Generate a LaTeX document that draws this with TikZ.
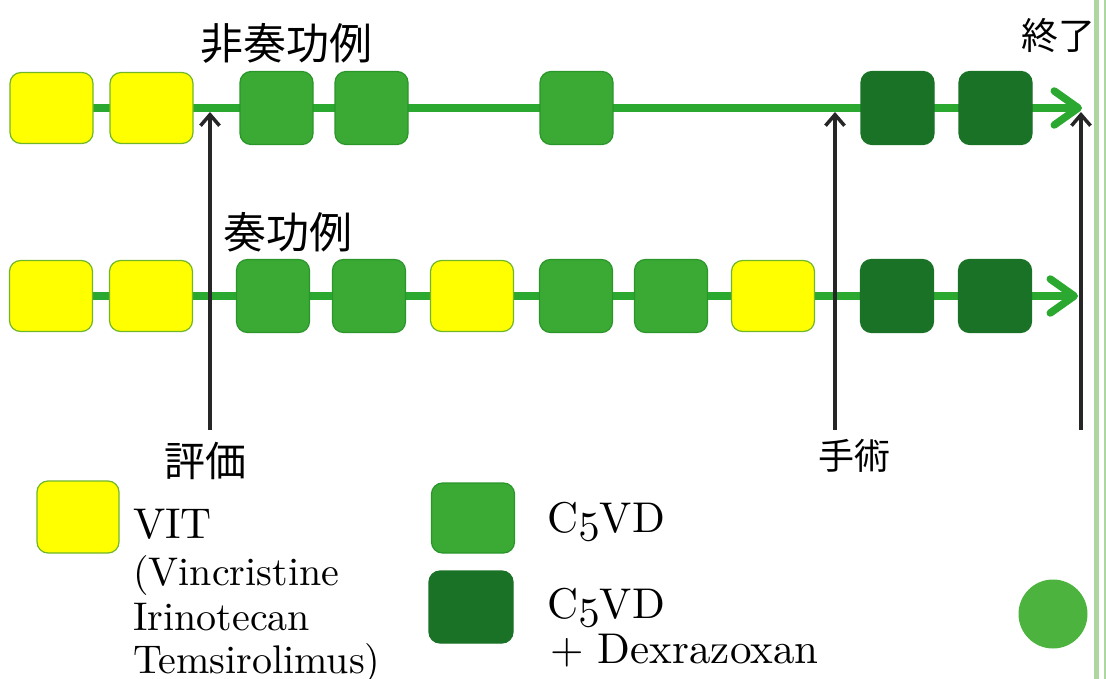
\documentclass[tikz,border=0pt]{standalone}
\usepackage{fontspec}
\setmainfont{lmroman10-regular.otf}
\newfontfamily\jpfont{Noto Sans CJK JP}
\usepackage{xcolor}
\usepackage{tikz}
\usetikzlibrary{arrows.meta, positioning, backgrounds}

% scalable old-style figures
\DeclareFontFamily{OML}{cmm}{\skewchar\font'177}
\DeclareFontShape{OML}{cmm}{m}{it}{<->cmmi10}{}
\newcommand{\onum}[1]{{\usefont{OML}{cmm}{m}{it}#1}}

\definecolor{vitYellow}{RGB}{255,255,0}
\definecolor{vitEdge}{RGB}{112,182,40}
\definecolor{cvdGreen}{RGB}{58,170,52}
\definecolor{cvdEdge}{RGB}{42,150,42}
\definecolor{dexGreen}{RGB}{26,114,38}
\definecolor{trackGreen}{RGB}{42,168,48}
\definecolor{rimGreen}{RGB}{172,216,160}
\definecolor{dotGreen}{RGB}{76,180,62}

\tikzstyle{vit} = [rectangle, rounded corners=11pt, minimum width=83pt, minimum height=71pt, outer sep=0pt, draw=vitEdge, line width=1.2pt, fill=vitYellow]
\tikzstyle{cvd} = [rectangle, rounded corners=11pt, minimum width=73pt, minimum height=73pt, outer sep=0pt, draw=cvdEdge, line width=1.2pt, fill=cvdGreen]
\tikzstyle{dex} = [cvd, draw=dexGreen, fill=dexGreen]
\tikzstyle{track} = [line width=7.5pt, draw=trackGreen, -{Straight Barb[length=24pt,width=34pt,round]}]
\tikzstyle{marker} = [line width=3.5pt, draw=black!85, -{Straight Barb[length=11pt,width=19pt]}]
\tikzstyle{jlabel} = [inner sep=0pt, font=\jpfont\fontsize{43}{48}\selectfont]
\tikzstyle{legtext} = [inner sep=0pt, anchor=base west, font=\fontsize{40}{46}\selectfont]
\tikzstyle{legbig} = [legtext, font=\fontsize{43}{48}\selectfont]

\begin{document}
\begin{tikzpicture}[x=1pt, y=-1pt]
    \useasboundingbox (0,0) rectangle (1106,679);

    % Non-responder course
    \node[vit] (r1a) at (51.5,108) {};
    \node[vit, right=17pt of r1a] (r1b) {};
    \node[cvd, right=47pt of r1b] (r1c) {};
    \node[cvd, right=22pt of r1c] (r1d) {};
    \node[cvd, right=132pt of r1d] (r1e) {};
    \node[dex, right=248pt of r1e] (r1f) {};
    \node[dex, right=25pt of r1f] (r1g) {};
    \coordinate (end1) at (1082,108);
    \node[jlabel] (nonresp) at (286,43) {非奏功例};

    % Responder course
    \node[vit] (r2a) at (51,296) {};
    \node[vit, right=17pt of r2a] (r2b) {};
    \node[cvd, right=44pt of r2b] (r2c) {};
    \node[cvd, right=23pt of r2c] (r2d) {};
    \node[vit, right=25pt of r2d] (r2e) {};
    \node[cvd, right=26pt of r2e] (r2f) {};
    \node[cvd, right=22pt of r2f] (r2g) {};
    \node[vit, right=24pt of r2g] (r2h) {};
    \node[dex, right=46pt of r2h] (r2i) {};
    \node[dex, right=25pt of r2i] (r2j) {};
    \coordinate (end2) at (1078,296);
    \node[jlabel] (resp) at (288,232) {奏功例};

    % Tracks behind the boxes
    \begin{scope}[on background layer]
        \draw[track] (r1a.center) -- (end1);
        \draw[track] (r2a.center) -- (end2);
    \end{scope}

    % Time points
    \node[jlabel, font=\jpfont\fontsize{41}{46}\selectfont] (eval) at (205,461) {評価};
    \node[jlabel, font=\jpfont\fontsize{36}{40}\selectfont] (surg) at (854,456) {手術};
    \node[jlabel, font=\jpfont\fontsize{37}{42}\selectfont] (stop) at (1058,36) {終了};
    \coordinate (evalfoot) at (210,430);
    \coordinate (evaltip) at (210,112);
    \coordinate (surgfoot) at (835,430);
    \coordinate (surgtip) at (835,112);
    \coordinate (stopfoot) at (1081,430);
    \coordinate (stoptip) at (1081,112);
    \draw[marker] (evalfoot) -- (evaltip);
    \draw[marker] (surgfoot) -- (surgtip);
    \draw[marker] (stopfoot) -- (stoptip);

    % Legend
    \node[vit, minimum width=82pt, minimum height=72pt] (keyvit) at (78,517) {};
    \node[legbig] (vit) at (133,538) {VIT};
    \node[legtext] (vin) at (133,585) {(Vincristine};
    \node[legtext] (iri) at (133,630) {Irinotecan};
    \node[legtext] (tem) at (133,673) {Temsirolimus)};

    \node[cvd, minimum width=83pt, minimum height=70pt] (keycvd) at (473,518) {};
    \node[legbig] (cvdtxt) at (547,532) {C\onum{5}VD};

    \node[dex, minimum width=84pt, minimum height=72pt] (keydex) at (471,607) {};
    \node[legbig] (dextxt) at (547,618) {C\onum{5}VD};
    \node[legbig] (dexplus) at (550,663) {+ Dexrazoxan};

    % Page edge
    \node[circle, fill=dotGreen, minimum size=69pt, inner sep=0pt] (dot) at (1053,614) {};
    \draw[rimGreen, line width=5pt] (1096,0) -- (1096,679);
    \draw[rimGreen, line width=2pt] (1105,0) -- (1105,679);
\end{tikzpicture}
\end{document}
